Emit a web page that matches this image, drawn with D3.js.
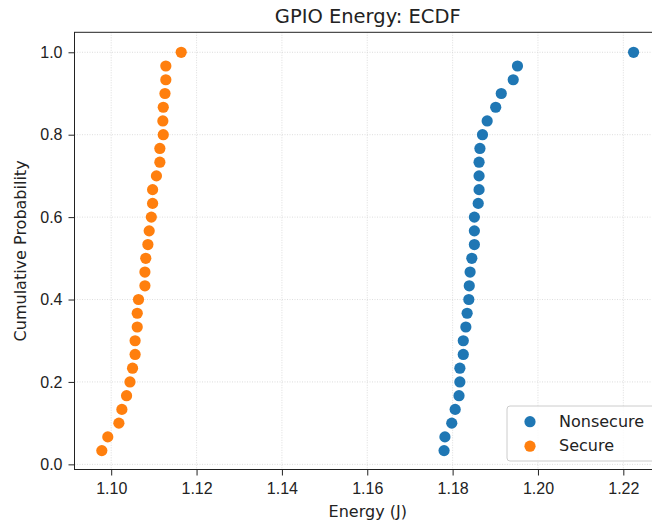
<!DOCTYPE html>
<html>
<head>
<meta charset="utf-8">
<script src="https://cdn.jsdelivr.net/npm/d3@7"></script>
<style>
  body { margin: 0; background: #fff; }
  svg { font-family: "DejaVu Sans", sans-serif; }
</style>
</head>
<body>
<div id="chart"></div>
<script>
// energy samples (J), sorted
var nonsecure = [1.1780, 1.1782, 1.1798, 1.1806, 1.1815, 1.1817, 1.1817, 1.1825, 1.1825, 1.1831,
                 1.1834, 1.1838, 1.1839, 1.1841, 1.1845, 1.1851, 1.1851, 1.1851, 1.1860, 1.1862,
                 1.1862, 1.1862, 1.1864, 1.1870, 1.1881, 1.1901, 1.1914, 1.1942, 1.1952, 1.2224]
var secure = [1.0978, 1.0992, 1.1018, 1.1025, 1.1036, 1.1044, 1.1050, 1.1056, 1.1056, 1.1061,
              1.1061, 1.1064, 1.1079, 1.1079, 1.1081, 1.1086, 1.1089, 1.1094, 1.1097, 1.1097,
              1.1106, 1.1114, 1.1114, 1.1122, 1.1121, 1.1122, 1.1126, 1.1128, 1.1128, 1.1164]
var seriesNames = ["Nonsecure", "Secure"]
var colors = ["#1f77b4", "#ff7f0e"]
var xTicks = [1.10, 1.12, 1.14, 1.16, 1.18, 1.20, 1.22]
var yTicks = [0.0, 0.2, 0.4, 0.6, 0.8, 1.0]

var W = 652, H = 527
var pLeft = 74.5, pRight = 661, pTop = 32.3, pBottom = 469.5

var svg = d3.select("#chart").append("svg")
    .attr("width", W)
    .attr("height", H)

var x = d3.scaleLinear()
    .domain([1.0914, 1.22883])
    .range([pLeft, pRight])
var y = d3.scaleLinear()
    .domain([-0.0125, 1.0485])
    .range([pBottom, pTop])

// grid
var grid = svg.append("g")
grid.selectAll(".gx").data(xTicks).enter().append("line")
    .attr("x1", d => x(d)).attr("x2", d => x(d))
    .attr("y1", pTop).attr("y2", pBottom)
    .attr("stroke", "#d4d4d4").attr("stroke-width", 0.8)
    .attr("stroke-dasharray", "1,1.5")
grid.selectAll(".gy").data(yTicks).enter().append("line")
    .attr("x1", pLeft).attr("x2", pRight)
    .attr("y1", d => y(d)).attr("y2", d => y(d))
    .attr("stroke", "#d4d4d4").attr("stroke-width", 0.8)
    .attr("stroke-dasharray", "1,1.5")

// axes
var xAxis = d3.axisBottom(x).tickValues(xTicks).tickFormat(d3.format(".2f")).tickSize(6).tickPadding(7)
var yAxis = d3.axisLeft(y).tickValues(yTicks).tickFormat(d3.format(".1f")).tickSize(6).tickPadding(6)

var gx = svg.append("g").attr("transform", "translate(0," + pBottom + ")").call(xAxis)
var gy = svg.append("g").attr("transform", "translate(" + pLeft + ",0)").call(yAxis)
gx.select(".domain").remove()
gy.select(".domain").remove()
svg.selectAll(".tick text").style("font-size", "16px").attr("fill", "#222")
svg.selectAll(".tick line").attr("stroke", "#222").attr("stroke-width", 1)

// spines
svg.append("rect")
    .attr("x", pLeft).attr("y", pTop)
    .attr("width", pRight - pLeft).attr("height", pBottom - pTop)
    .attr("fill", "none").attr("stroke", "#222").attr("stroke-width", 1)

// points
var series = [nonsecure, secure]
series.forEach(function (vals, s) {
    var n = vals.length
    svg.append("g").selectAll("circle")
        .data(vals)
        .enter()
        .append("circle")
        .attr("cx", d => x(d))
        .attr("cy", (d, i) => y((i + 1) / n))
        .attr("r", 5.6)
        .attr("fill", colors[s])
})

// title and labels
svg.append("text")
    .attr("x", (pLeft + pRight) / 2).attr("y", 23)
    .attr("text-anchor", "middle")
    .attr("fill", "#222")
    .style("font-size", "19.5px")
    .text("GPIO Energy: ECDF")
svg.append("text")
    .attr("x", (pLeft + pRight) / 2).attr("y", 517)
    .attr("text-anchor", "middle")
    .attr("fill", "#222")
    .style("font-size", "16px")
    .text("Energy (J)")
svg.append("text")
    .attr("transform", "translate(26," + ((pTop + pBottom) / 2) + ") rotate(-90)")
    .attr("text-anchor", "middle")
    .attr("fill", "#222")
    .style("font-size", "16px")
    .text("Cumulative Probability")

// legend
var lg = svg.append("g").attr("transform", "translate(507,406)")
lg.append("rect")
    .attr("width", 160).attr("height", 55)
    .attr("rx", 3)
    .attr("fill", "#fff").attr("fill-opacity", 0.8)
    .attr("stroke", "#ccc")
seriesNames.forEach(function (name, i) {
    lg.append("circle")
        .attr("cx", 23).attr("cy", 15.7 + i * 24.5)
        .attr("r", 5.6)
        .attr("fill", colors[i])
    lg.append("text")
        .attr("x", 52).attr("y", 20.9 + i * 24.5)
        .attr("fill", "#222")
        .style("font-size", "16px")
        .text(name)
})
</script>
</body>
</html>
